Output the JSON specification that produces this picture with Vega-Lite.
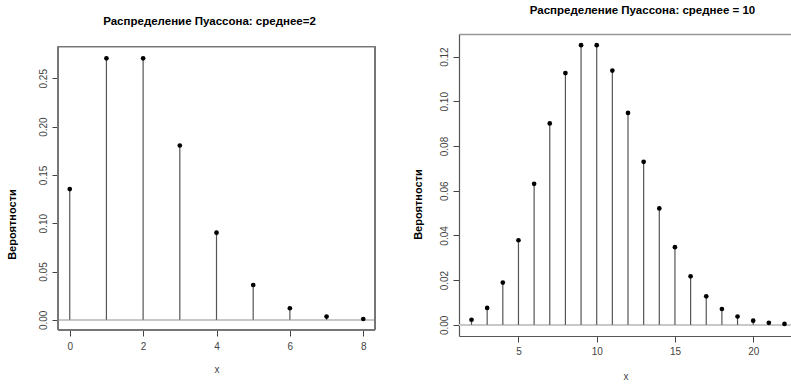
{
  "$schema": "https://vega.github.io/schema/vega-lite/v6.json",
  "padding": {"left": 6, "top": 5, "right": 0, "bottom": 0},
  "spacing": 35,
  "background": "white",
  "datasets": {
    "p2": [
      {"k": 0, "p": 0.135335}, {"k": 1, "p": 0.270671}, {"k": 2, "p": 0.270671},
      {"k": 3, "p": 0.180447}, {"k": 4, "p": 0.090224}, {"k": 5, "p": 0.036089},
      {"k": 6, "p": 0.012030}, {"k": 7, "p": 0.003437}, {"k": 8, "p": 0.000859}
    ],
    "p10": [
      {"k": 2, "p": 0.002270}, {"k": 3, "p": 0.007567}, {"k": 4, "p": 0.018917},
      {"k": 5, "p": 0.037833}, {"k": 6, "p": 0.063055}, {"k": 7, "p": 0.090079},
      {"k": 8, "p": 0.112599}, {"k": 9, "p": 0.125110}, {"k": 10, "p": 0.125110},
      {"k": 11, "p": 0.113736}, {"k": 12, "p": 0.094780}, {"k": 13, "p": 0.072908},
      {"k": 14, "p": 0.052077}, {"k": 15, "p": 0.034718}, {"k": 16, "p": 0.021699},
      {"k": 17, "p": 0.012764}, {"k": 18, "p": 0.007091}, {"k": 19, "p": 0.003732},
      {"k": 20, "p": 0.001866}, {"k": 21, "p": 0.000889}, {"k": 22, "p": 0.000404}
    ]
  },
  "hconcat": [
    {
      "width": 317,
      "height": 296,
      "data": {"name": "p2"},
      "title": {
        "text": "Распределение Пуассона: среднее=2",
        "font": "Liberation Sans",
        "fontWeight": "bold",
        "fontSize": 11.5,
        "color": "#000",
        "offset": 6.5,
        "dx": -7
      },
      "layer": [
        {
          "mark": {"type": "rule", "color": "#c8c8c8", "strokeWidth": 1},
          "encoding": {
            "y": {"datum": 0, "type": "quantitative"}
          }
        },
        {
          "mark": {"type": "rule", "color": "#777", "strokeWidth": 1},
          "encoding": {
            "y": {"datum": 0.2828, "type": "quantitative"}
          }
        },
        {
          "mark": {"type": "rule", "color": "#777", "strokeWidth": 1},
          "encoding": {
            "y": {"datum": -0.0105, "type": "quantitative"}
          }
        },
        {
          "mark": {"type": "rule", "color": "#777", "strokeWidth": 1},
          "encoding": {
            "x": {"datum": -0.32, "type": "quantitative"},
            "y": {"datum": -0.0105, "type": "quantitative"},
            "y2": {"datum": 0.2828}
          }
        },
        {
          "mark": {"type": "rule", "color": "#777", "strokeWidth": 1},
          "encoding": {
            "x": {"datum": 8.32, "type": "quantitative"},
            "y": {"datum": -0.0105, "type": "quantitative"},
            "y2": {"datum": 0.2828}
          }
        },
        {
          "mark": {"type": "rule", "color": "#555", "strokeWidth": 1.2},
          "encoding": {
            "x": {
              "field": "k", "type": "quantitative",
              "scale": {"domain": [-0.32, 8.32], "nice": false, "zero": false},
              "axis": {
                "values": [0, 2, 4, 6, 8], "title": "x", "domain": false,
                "tickColor": "#444", "tickSize": 6, "labelPadding": 5,
                "labelFontSize": 10, "labelColor": "#444",
                "titleFontSize": 10, "titleFontWeight": "normal", "titleColor": "#444",
                "titlePadding": 13.5
              }
            },
            "y": {
              "field": "p", "type": "quantitative",
              "scale": {"domain": [-0.0105, 0.2958], "nice": false, "zero": false},
              "axis": {
                "values": [0, 0.05, 0.1, 0.15, 0.2, 0.25], "format": ".2f",
                "title": "Вероятности", "domain": false,
                "tickColor": "#444", "tickSize": 6, "labelPadding": 4,
                "labelAngle": 270, "labelAlign": "center", "labelBaseline": "bottom",
                "labelFontSize": 10, "labelColor": "#444",
                "titleFontSize": 11, "titleFontWeight": "bold", "titleColor": "#000",
                "titlePadding": 21, "titleY": 190
              }
            },
            "y2": {"datum": 0}
          }
        },
        {
          "mark": {"type": "point", "filled": true, "color": "#000", "size": 22, "opacity": 1},
          "encoding": {
            "x": {"field": "k", "type": "quantitative"},
            "y": {"field": "p", "type": "quantitative"}
          }
        }
      ]
    },
    {
      "width": 333,
      "height": 302,
      "data": {"name": "p10"},
      "title": {
        "text": "Распределение Пуассона: среднее = 10",
        "font": "Liberation Sans",
        "fontWeight": "bold",
        "fontSize": 11.5,
        "color": "#000",
        "offset": 17.5,
        "dx": 17
      },
      "resolve": {"axis": {"x": "independent"}},
      "layer": [
        {
          "mark": {"type": "rule", "color": "#c8c8c8", "strokeWidth": 1},
          "encoding": {
            "y": {"datum": 0, "type": "quantitative"}
          }
        },
        {
          "mark": {"type": "rule", "color": "#555", "strokeWidth": 1.2},
          "encoding": {
            "x": {
              "field": "k", "type": "quantitative",
              "scale": {"domain": [1.2, 22.48], "nice": false, "zero": false},
              "axis": {
                "values": [5, 10, 15, 20], "title": "x",
                "domainColor": "#555", "domainWidth": 1.2,
                "tickColor": "#444", "tickSize": 6, "labelPadding": 4,
                "labelFontSize": 10, "labelColor": "#444",
                "titleFontSize": 10, "titleFontWeight": "normal", "titleColor": "#444",
                "titlePadding": 15.5
              }
            },
            "y": {
              "field": "p", "type": "quantitative",
              "scale": {"domain": [-0.005, 0.1301], "nice": false, "zero": false},
              "axis": {
                "values": [0, 0.02, 0.04, 0.06, 0.08, 0.1, 0.12], "format": ".2f",
                "title": "Вероятности",
                "domainColor": "#555", "domainWidth": 1.2,
                "tickColor": "#444", "tickSize": 6, "labelPadding": 4,
                "labelAngle": 270, "labelAlign": "center", "labelBaseline": "bottom",
                "labelFontSize": 10, "labelColor": "#444",
                "titleFontSize": 11, "titleFontWeight": "bold", "titleColor": "#000",
                "titlePadding": 16, "titleY": 170
              }
            },
            "y2": {"datum": 0}
          }
        },
        {
          "mark": {"type": "point", "filled": true, "color": "#000", "size": 22, "opacity": 1},
          "encoding": {
            "x": {
              "field": "k", "type": "quantitative",
              "axis": {
                "orient": "top", "labels": false, "ticks": false, "title": null,
                "domainColor": "#999", "domainWidth": 1.6
              }
            },
            "y": {"field": "p", "type": "quantitative"}
          }
        }
      ]
    }
  ],
  "config": {
    "view": {"stroke": null},
    "axis": {"grid": false, "labelFont": "Liberation Sans", "titleFont": "Liberation Sans"},
    "title": {"anchor": "middle"}
  }
}
